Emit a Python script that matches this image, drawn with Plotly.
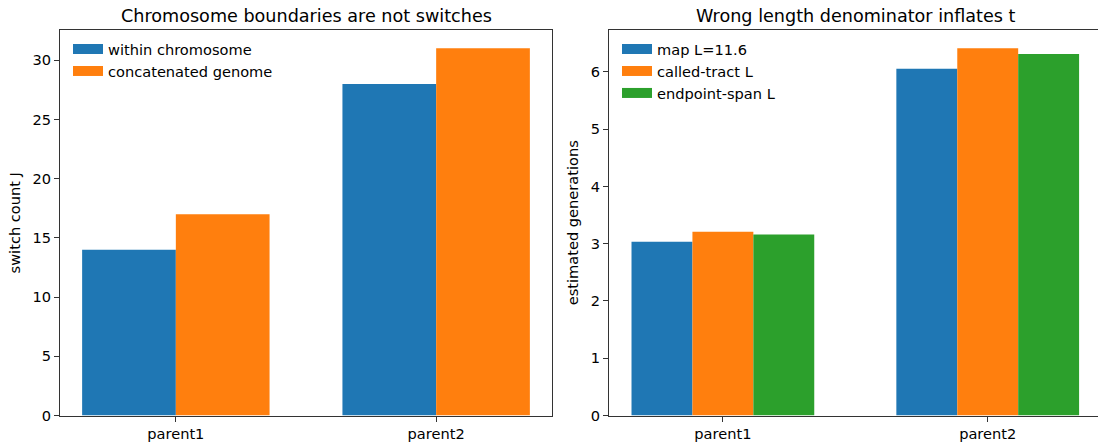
import plotly.graph_objects as go

# ---- data ----
categories = ["parent1", "parent2"]

left_series = ["within chromosome", "concatenated genome"]
left_values = [
    [14, 28],   # within chromosome
    [17, 31],   # concatenated genome
]

right_series = ["map L=11.6", "called-tract L", "endpoint-span L"]
right_values = [
    [3.035, 6.055],  # map L=11.6
    [3.21, 6.41],    # called-tract L
    [3.16, 6.31],    # endpoint-span L
]

left_title = "Chromosome boundaries are not switches"
right_title = "Wrong length denominator inflates t"
left_ylabel = "switch count J"
right_ylabel = "estimated generations"
left_yticks = [0, 5, 10, 15, 20, 25, 30]
right_yticks = [0, 1, 2, 3, 4, 5, 6]

colors = ["#1f77b4", "#ff7f0e", "#2ca02c"]

# ---- layout constants ----
W, H = 1098, 447
FONT = "DejaVu Sans"
TXT = "#000000"
SPINE = "#333333"
FS = 14.6
TFS = 17.6

def px_x(p):
    return p / W

def px_y(p):
    return (H - p) / H

fig = go.Figure()

def add_group(series, values, width, xaxis, yaxis, legend):
    n = len(series)
    for j, (name, vals) in enumerate(zip(series, values)):
        xs = [i + (j - (n - 1) / 2) * width for i in range(len(categories))]
        fig.add_trace(go.Bar(
            x=xs, y=vals, width=width, name=name,
            marker=dict(color=colors[j], line=dict(width=0)),
            xaxis=xaxis, yaxis=yaxis, showlegend=False,
            hovertext=categories,
        ))
        # legend proxy (wide rectangular handle like matplotlib)
        fig.add_trace(go.Scatter(
            x=[None], y=[None], mode="lines", name=name,
            line=dict(color=colors[j], width=10),
            xaxis=xaxis, yaxis=yaxis, legend=legend,
            legendgroup=f"{legend}{j}", showlegend=True,
        ))

add_group(left_series, left_values, 0.36, "x", "y", "legend")
add_group(right_series, right_values, 0.23, "x2", "y2", "legend2")

ydom = [px_y(415.5), px_y(30)]
tickfont = dict(family=FONT, size=FS, color=TXT)

common_x = dict(
    showgrid=False, zeroline=False, showline=True, linecolor=SPINE, linewidth=1,
    ticks="outside", ticklen=5, tickcolor=SPINE, tickwidth=1,
    tickfont=tickfont, tickmode="array", tickvals=[0, 1], ticktext=categories,
    fixedrange=True, automargin=False,
)
common_y = dict(
    showgrid=False, zeroline=False, showline=True, linecolor=SPINE, linewidth=1,
    ticks="outside", ticklen=5, tickcolor=SPINE, tickwidth=1,
    tickfont=tickfont, tickmode="array", domain=ydom, fixedrange=True,
    automargin=False,
)

fig.update_layout(
    template="none",
    width=W, height=H,
    margin=dict(l=0, r=0, t=0, b=0, pad=0, autoexpand=False),
    paper_bgcolor="white", plot_bgcolor="white",
    font=dict(family=FONT, size=FS, color=TXT),
    barmode="overlay",
    hovermode=False,
    xaxis=dict(common_x, domain=[px_x(60), px_x(552)], range=[-0.445, 1.445], mirror=True),
    yaxis=dict(common_y, range=[0, 32.55], tickvals=left_yticks, mirror=True,
               title=dict(text=left_ylabel, font=dict(family=FONT, size=FS, color=TXT), standoff=8)),
    xaxis2=dict(common_x, domain=[px_x(609), px_x(1097.5)], range=[-0.43, 1.4145],
                anchor="y2", mirror=True),
    yaxis2=dict(common_y, range=[0, 6.73], tickvals=right_yticks, anchor="x2", mirror=False,
                title=dict(text=right_ylabel, font=dict(family=FONT, size=FS, color=TXT), standoff=8)),
    legend=dict(
        x=px_x(68), y=px_y(33), xanchor="left", yanchor="top",
        bgcolor="rgba(255,255,255,0)", borderwidth=0,
        font=dict(family=FONT, size=FS, color=TXT),
        traceorder="grouped", tracegroupgap=0,
    ),
    legend2=dict(
        x=px_x(617), y=px_y(33), xanchor="left", yanchor="top",
        bgcolor="rgba(255,255,255,0)", borderwidth=0,
        font=dict(family=FONT, size=FS, color=TXT),
        traceorder="grouped", tracegroupgap=0,
    ),
    annotations=[
        dict(text=left_title, x=px_x((60 + 552) / 2), y=px_y(16), xref="paper", yref="paper",
             xanchor="center", yanchor="middle", showarrow=False,
             font=dict(family=FONT, size=TFS, color=TXT)),
        dict(text=right_title, x=px_x((609 + 1102) / 2), y=px_y(16), xref="paper", yref="paper",
             xanchor="center", yanchor="middle", showarrow=False,
             font=dict(family=FONT, size=TFS, color=TXT)),
    ],
)

page_css = (
    "var s=document.createElement('style');"
    "s.innerHTML='html,body{margin:0 !important;padding:0 !important;overflow:hidden !important;"
    f"height:{H}px !important;width:{W}px !important;}}';"
    "document.head.appendChild(s);"
)

fig.write_html(
    "out.html",
    config={"displayModeBar": False, "staticPlot": True},
    post_script=page_css,
)
